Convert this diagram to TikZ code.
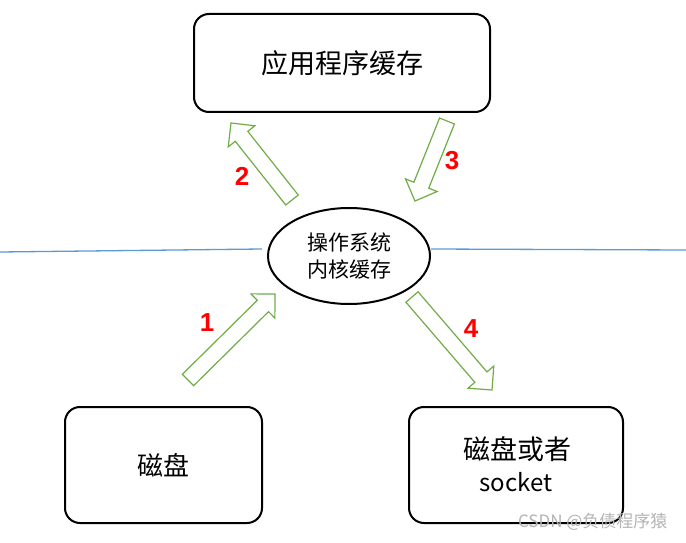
\documentclass[tikz,border=0pt]{standalone}
\usepackage{fontspec}
\setmainfont{Liberation Sans}
\newfontfamily\cjk{Noto Sans CJK SC}
\usetikzlibrary{calc,shapes.geometric}
\definecolor{agreen}{HTML}{70AD47}
\definecolor{ablue}{HTML}{5B9BD5}
\definecolor{wm}{HTML}{B4B4B4}
\tikzset{
  box/.style={draw=black,line width=2pt,rounded corners=15pt,fill=white},
  arrowshape/.style={draw=agreen,line width=1.2pt,fill=white,line join=miter},
  num/.style={text=red,font=\fontsize{26}{28}\selectfont\bfseries},
  sepline/.style={draw=ablue,line width=1.3pt},
}
\newcommand\blockarr[3]{%
  \coordinate (#1h) at ($(#3)!17pt!(#2)$);
  \draw[arrowshape] ($(#2)!8pt!90:(#3)$) -- ($(#1h)!8pt!90:(#3)$) -- ($(#1h)!17pt!90:(#3)$) -- (#3) -- ($(#1h)!17pt!-90:(#3)$) -- ($(#1h)!8pt!-90:(#3)$) -- ($(#2)!8pt!-90:(#3)$) -- cycle;
}
\begin{document}
\begin{tikzpicture}[x=1pt,y=-1pt]
\useasboundingbox[fill=white] (0,0) rectangle (686,543);
% separator line
\coordinate (l1) at (0,252);
\coordinate (l2) at (262,249);
\coordinate (r1) at (431,249);
\coordinate (r2) at (686,250);
\draw[sepline] (l1) -- (l2);
\draw[sepline] (r1) -- (r2);
% boxes
\node[box,minimum width=296pt,minimum height=98pt,font=\cjk\fontsize{27}{30}\selectfont] (app) at (342,63) {应用程序缓存};
\node[draw=black,line width=2pt,ellipse,minimum width=162pt,minimum height=96pt,fill=white,align=center,font=\cjk\fontsize{21}{27}\selectfont] (kern) at (349,256) {操作系统\\内核缓存};
\node[box,minimum width=197pt,minimum height=116pt,font=\cjk\fontsize{26}{30}\selectfont] (disk) at (163.5,465) {磁盘};
\node[box,minimum width=214pt,minimum height=116pt] (sock) at (516,465) {};
\node[font=\cjk\fontsize{27}{30}\selectfont] (socktxt1) at (517,449) {磁盘或者};
\node[font=\cjk\fontsize{24}{28}\selectfont] (socktxt2) at (516,482) {socket};
% arrows
\coordinate (a1t) at (188,380); \coordinate (a1p) at (275,294);
\coordinate (a2t) at (292,200); \coordinate (a2p) at (231,123);
\coordinate (a3t) at (447,121); \coordinate (a3p) at (415,201);
\coordinate (a4t) at (412,297); \coordinate (a4p) at (492,390);
\blockarr{a1}{a1t}{a1p}
\blockarr{a2}{a2t}{a2p}
\blockarr{a3}{a3t}{a3p}
\blockarr{a4}{a4t}{a4p}
% numbers
\node[num] (n1) at (207,323) {1};
\node[num] (n2) at (242,176) {2};
\node[num] (n3) at (452,161) {3};
\node[num] (n4) at (471,329) {4};
% watermark
\node[text=wm,font=\cjk\fontsize{17}{20}\selectfont,anchor=east] (wmk) at (671,522) {CSDN @负债程序猿};
\end{tikzpicture}
\end{document}
